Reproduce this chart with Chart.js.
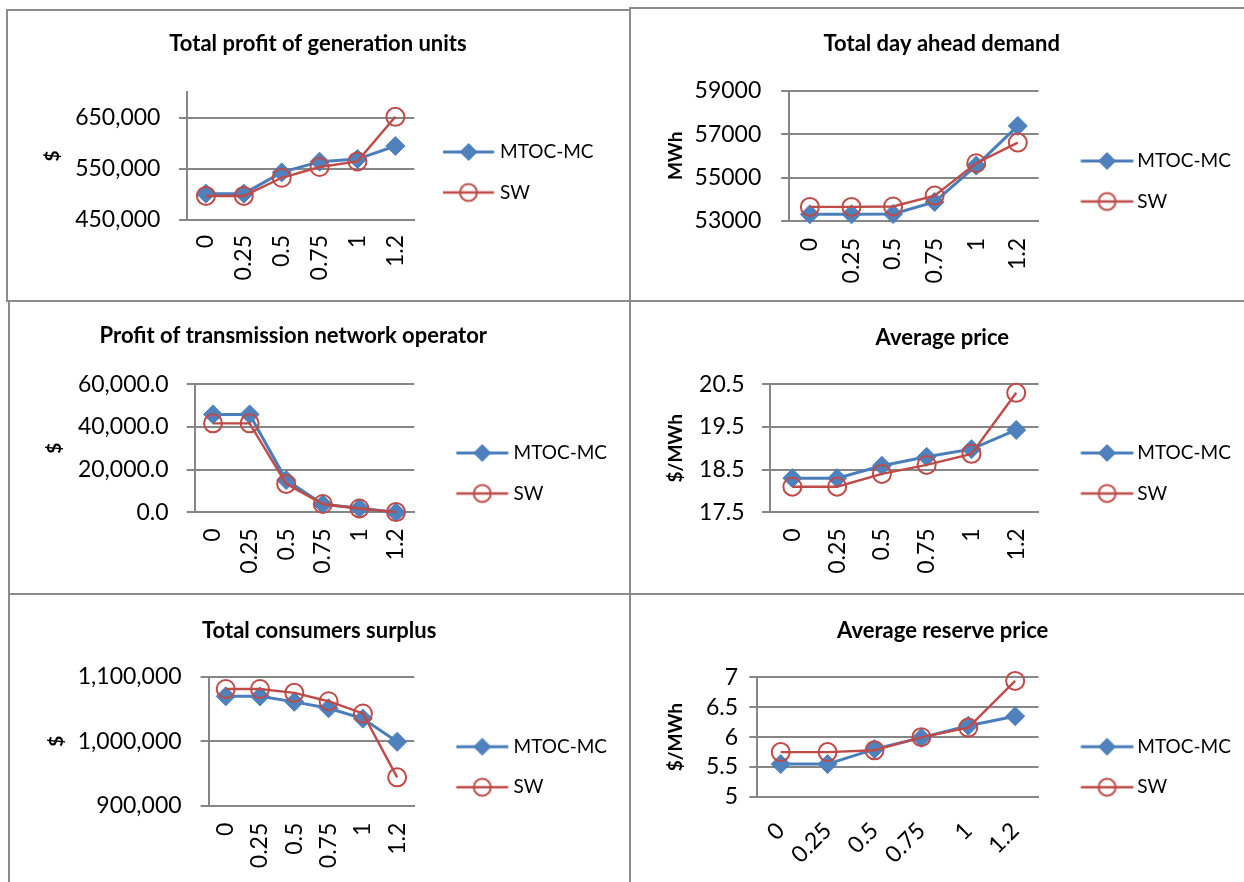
<!DOCTYPE html>
<html><head><meta charset="utf-8">
<script src="https://cdn.jsdelivr.net/npm/chart.js@4.4.1/dist/chart.umd.min.js"></script>
<style>
html,body{margin:0;padding:0;background:#fff;width:1244px;height:882px;overflow:hidden;position:relative;font-family:Lato}
.ln{position:absolute;background:#8c8c8c}
canvas{position:absolute}
</style></head><body>
<div class="ln" style="left:6px;top:9px;width:624px;height:2px"></div>
<div class="ln" style="left:6px;top:9px;width:2px;height:293px"></div>
<div class="ln" style="left:629px;top:7px;width:615px;height:2px"></div>
<div class="ln" style="left:629px;top:7px;width:2px;height:875px"></div>
<div class="ln" style="left:6px;top:300px;width:1238px;height:2px"></div>
<div class="ln" style="left:8px;top:300px;width:2px;height:582px"></div>
<div class="ln" style="left:8px;top:593px;width:1236px;height:2px"></div>
<script>
// ---------- DATA ----------
const categories = ['0', '0.25', '0.5', '0.75', '1', '1.2'];
const seriesNames = ['MTOC-MC', 'SW'];

const genProfitTitle = 'Total profit of generation units';
const genProfitMTOC = [501500, 501500, 543000, 564000, 569000, 594500];
const genProfitSW   = [497000, 497000, 532500, 553500, 564500, 651500];
const genProfitTicks = [450000, 550000, 650000];
const genProfitTickLabels = ['450,000', '550,000', '650,000'];
const genProfitRange = [450000, 700000];

const demandTitle = 'Total day ahead demand';
const demandMTOC = [53310, 53310, 53320, 53880, 55550, 57380];
const demandSW   = [53650, 53650, 53670, 54170, 55660, 56610];
const demandTicks = [53000, 55000, 57000, 59000];
const demandTickLabels = ['53000', '55000', '57000', '59000'];
const demandRange = [53000, 59000];

const tnoTitle = 'Profit of transmission network operator';
const tnoMTOC = [45900, 45900, 15100, 3750, 1900, 0];
const tnoSW   = [41700, 41700, 13300, 3900, 1800, 100];
const tnoTicks = [0, 20000, 40000, 60000];
const tnoTickLabels = ['0.0', '20,000.0', '40,000.0', '60,000.0'];
const tnoRange = [0, 60000];

const priceTitle = 'Average price';
const priceMTOC = [18.30, 18.30, 18.59, 18.80, 18.98, 19.43];
const priceSW   = [18.10, 18.10, 18.40, 18.61, 18.87, 20.30];
const priceTicks = [17.5, 18.5, 19.5, 20.5];
const priceTickLabels = ['17.5', '18.5', '19.5', '20.5'];
const priceRange = [17.5, 20.5];

const surplusTitle = 'Total consumers surplus';
const surplusMTOC = [1069500, 1069500, 1061000, 1051000, 1035000, 999000];
const surplusSW   = [1081000, 1081000, 1075000, 1062000, 1043000, 944000];
const surplusTicks = [900000, 1000000, 1100000];
const surplusTickLabels = ['900,000', '1,000,000', '1,100,000'];
const surplusRange = [900000, 1100000];

const reserveTitle = 'Average reserve price';
const reserveMTOC = [5.55, 5.55, 5.80, 5.99, 6.19, 6.35];
const reserveSW   = [5.75, 5.75, 5.78, 6.00, 6.16, 6.94];
const reserveTicks = [5, 5.5, 6, 6.5, 7];
const reserveTickLabels = ['5', '5.5', '6', '6.5', '7'];
const reserveRange = [5, 7];

// ---------- LAYOUT / STYLE ----------
const FONT = 'Lato';
const TICK_FS = 23, LEG_FS = 19, TITLE_FS = 22, YT_FS = 19;
const LP = 21.5, TL = 8;
const GRID = '#868686';
const BLUE_LINE = '#4A7EBB', BLUE_FILL = '#4F81BD', RED = '#BE4B48';

const panels = [
  {title: genProfitTitle, yTitle: '$', a: genProfitMTOC, b: genProfitSW, ticks: genProfitTicks, labels: genProfitTickLabels, range: genProfitRange, rot: 90,
   g: {L: 187, R: 414.3, T: 92, B: 220, tcx: 318, tcy: 44, ytx: 53, ylr: 160.4, ls: 443, le: 494, ts: 500, iy: 152, xg: 15, top: 0, h: 300}},
  {title: demandTitle, yTitle: 'MWh', a: demandMTOC, b: demandSW, ticks: demandTicks, labels: demandTickLabels, range: demandRange, rot: 90,
   g: {L: 789.1, R: 1038.6, T: 90.7, B: 221, tcx: 941.7, tcy: 44, ytx: 675.7, ylr: 761.3, ls: 1080.8, le: 1133.3, ts: 1137.3, iy: 161, xg: 17, top: 0, h: 300}},
  {title: tnoTitle, yTitle: '$', a: tnoMTOC, b: tnoSW, ticks: tnoTicks, labels: tnoTickLabels, range: tnoRange, rot: 90,
   g: {L: 194.7, R: 414.3, T: 384.3, B: 512.3, tcx: 293.3, tcy: 336, ytx: 55, ylr: 168.6, ls: 456.3, le: 508.2, ts: 513.5, iy: 453, xg: 16, top: 295, h: 298}},
  {title: priceTitle, yTitle: '$/MWh', a: priceMTOC, b: priceSW, ticks: priceTicks, labels: priceTickLabels, range: priceRange, rot: 90,
   g: {L: 770, R: 1038.6, T: 384.3, B: 512.3, tcx: 942.3, tcy: 338, ytx: 675.7, ylr: 744.5, ls: 1080.8, le: 1133.3, ts: 1137.3, iy: 453, xg: 16, top: 295, h: 298}},
  {title: surplusTitle, yTitle: '$', a: surplusMTOC, b: surplusSW, ticks: surplusTicks, labels: surplusTickLabels, range: surplusRange, rot: 90,
   g: {L: 208.6, R: 414.3, T: 676.7, B: 805.7, tcx: 319.2, tcy: 630.7, ytx: 57, ylr: 181.6, ls: 456.3, le: 508.2, ts: 513.5, iy: 746.7, xg: 17, top: 590, h: 292}},
  {title: reserveTitle, yTitle: '$/MWh', a: reserveMTOC, b: reserveSW, ticks: reserveTicks, labels: reserveTickLabels, range: reserveRange, rot: 45,
   g: {L: 757.3, R: 1038.6, T: 677.3, B: 797, tcx: 942.7, tcy: 630.7, ytx: 675.7, ylr: 738, ls: 1080.8, le: 1133.3, ts: 1137.3, iy: 746.7, xg: 20, top: 590, h: 292}}
];

const mctx = document.createElement('canvas').getContext('2d');
mctx.font = LEG_FS + 'px ' + FONT;
const legTextW = mctx.measureText(seriesNames[0]).width;

function legendImage(kind, m, len, psw) {
  const c = psw / 2;
  const hw = Math.max(c - m, m + len - c) + 12;
  const w = Math.ceil(2 * hw), h = 28;
  const cv = document.createElement('canvas');
  cv.width = w; cv.height = h;
  const ctx = cv.getContext('2d');
  const s = m - (c - w / 2);
  const cy = h / 2, mx = s + len / 2;
  ctx.lineCap = 'butt';
  if (kind === 0) {
    ctx.strokeStyle = BLUE_LINE; ctx.lineWidth = 3;
    ctx.beginPath(); ctx.moveTo(s, cy); ctx.lineTo(s + len, cy); ctx.stroke();
    const r = 8.5;
    ctx.fillStyle = BLUE_FILL; ctx.strokeStyle = BLUE_LINE; ctx.lineWidth = 1;
    ctx.beginPath(); ctx.moveTo(mx - r, cy); ctx.lineTo(mx, cy - r); ctx.lineTo(mx + r, cy); ctx.lineTo(mx, cy + r); ctx.closePath();
    ctx.fill(); ctx.stroke();
  } else {
    ctx.strokeStyle = RED; ctx.lineWidth = 2.4;
    ctx.beginPath(); ctx.moveTo(s, cy); ctx.lineTo(s + len, cy); ctx.stroke();
    ctx.lineWidth = 2;
    ctx.beginPath(); ctx.arc(mx, cy, 8.5, 0, Math.PI * 2); ctx.stroke();
  }
  return cv;
}

panels.forEach((p) => {
  const g = p.g;
  const CT = g.top, CH = g.h;
  const legendRightEst = g.ts + legTextW + 12;
  const CL = Math.floor(Math.min(g.ytx - 40, 2 * g.tcx - legendRightEst) - 10);
  const CW = Math.ceil(legendRightEst + 50 - CL);
  const canvas = document.createElement('canvas');
  canvas.width = CW; canvas.height = CH;
  canvas.style.left = CL + 'px'; canvas.style.top = CT + 'px';
  document.body.appendChild(canvas);

  const L = g.L - CL, R = g.R - CL, T = g.T - CT, B = g.B - CT;
  const tcxL = g.tcx - CL;
  const x0 = R + LP;
  const m = g.ls - CL - x0, len = g.le - g.ls;
  const psw = g.ts - CL - x0 - LEG_FS / 2;
  const imgs = [legendImage(0, m, len, psw), legendImage(1, m, len, psw)];

  const tlh = TITLE_FS * 1.2, ylh = YT_FS * 1.2;
  const titlePad = {top: (g.tcy - CT) - tlh / 2, bottom: 0};
  titlePad.bottom = T - titlePad.top - tlh;
  const legTitlePadTop = (g.iy - CT) - LP - LEG_FS / 2 - 1.2;

  const st = {};
  function solve(wLeg) {
    st.pR = CW - R - wLeg;
    st.pL = 2 * tcxL - (CW - st.pR);
    st.yw = L - st.pL;
    st.ytPad = (g.ytx - CL) - st.pL - ylh / 2;
  }
  solve(2 * LP + psw + LEG_FS / 2 + legTextW + 10);

  const chart = new Chart(canvas, {
    type: 'line',
    data: {
      labels: categories,
      datasets: [
        {label: seriesNames[0], data: p.a, borderColor: BLUE_LINE, borderWidth: 3, backgroundColor: BLUE_FILL,
         pointStyle: 'rectRot', pointRadius: 9.5, pointHoverRadius: 9.5, pointBackgroundColor: BLUE_FILL, pointBorderColor: BLUE_LINE, pointBorderWidth: 1,
         tension: 0, clip: false, order: 1},
        {label: seriesNames[1], data: p.b, borderColor: RED, borderWidth: 2.4, backgroundColor: 'rgba(0,0,0,0)',
         pointStyle: 'circle', pointRadius: 9, pointHoverRadius: 9, pointBackgroundColor: 'rgba(0,0,0,0)', pointBorderColor: RED, pointBorderWidth: 2,
         tension: 0, clip: false, order: 0}
      ]
    },
    options: {
      responsive: false, animation: false, devicePixelRatio: 1,
      layout: {padding: {left: st.pL, right: st.pR, top: 0, bottom: 0}},
      events: [],
      plugins: {
        tooltip: {enabled: false},
        title: {display: true, text: p.title, color: '#000', font: {family: FONT, size: TITLE_FS, weight: 'bold'}, padding: Object.assign({}, titlePad)},
        legend: {
          position: 'right', align: 'start', fullSize: true, maxWidth: 600,
          title: {display: true, text: '', font: {family: FONT, size: 1}, padding: {top: legTitlePadTop, bottom: 0}},
          labels: {
            color: '#000', font: {family: FONT, size: LEG_FS}, padding: LP,
            usePointStyle: true, pointStyleWidth: psw,
            generateLabels: () => seriesNames.map((n, i) => ({text: n, pointStyle: imgs[i], fillStyle: 'rgba(0,0,0,0)', strokeStyle: 'rgba(0,0,0,0)', lineWidth: 0, hidden: false, datasetIndex: i, fontColor: '#000'}))
          }
        }
      },
      scales: {
        x: {
          type: 'category', offset: true,
          grid: {display: false, drawTicks: false},
          border: {display: true, color: GRID, width: 2},
          ticks: {color: '#000', font: {family: FONT, size: TICK_FS}, minRotation: p.rot, maxRotation: p.rot, autoSkip: false, padding: g.xg},
          afterFit: (s) => { s.height = CH - B; }
        },
        y: {
          min: p.range[0], max: p.range[1],
          afterBuildTicks: (s) => { s.ticks = p.ticks.map(v => ({value: v})); },
          ticks: {color: '#000', font: {family: FONT, size: TICK_FS}, autoSkip: false, padding: L - TL - (g.ylr - CL), callback: (v, i) => p.labels[i]},
          grid: {color: GRID, lineWidth: 2, tickLength: TL, drawTicks: true, tickColor: GRID},
          border: {display: true, color: GRID, width: 2},
          title: {display: true, text: p.yTitle, color: '#000', font: {family: FONT, size: YT_FS, weight: 'bold'}, padding: {top: st.ytPad, bottom: 0}},
          afterFit: (s) => { s.width = st.yw; }
        }
      }
    }
  });
  for (let k = 0; k < 4; k++) {
    solve(chart.legend.width);
    chart.options.layout.padding = {left: st.pL, right: st.pR, top: 0, bottom: 0};
    chart.options.scales.y.title.padding = {top: st.ytPad, bottom: 0};
    const ca = chart.chartArea;
    if (Math.abs(ca.top - T) > 0.2) titlePad.bottom += T - ca.top;
    chart.options.plugins.title.padding = Object.assign({}, titlePad);
    chart.update();
  }
});
</script>
</body></html>
